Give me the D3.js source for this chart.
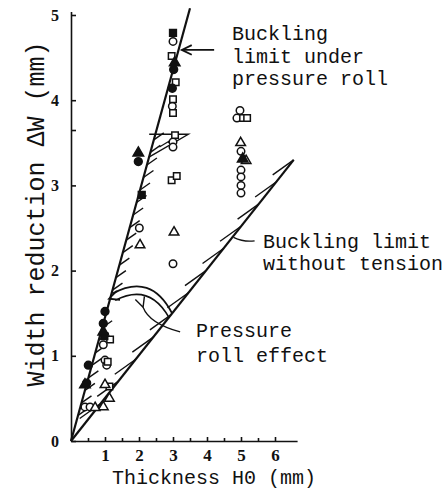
<!DOCTYPE html>
<html>
<head>
<meta charset="utf-8">
<script src="https://cdn.jsdelivr.net/npm/d3@7"></script>
<style>
  body { margin: 0; background: #fff; }
  svg { display: block; }
  .mono { font-family: "Liberation Mono", "DejaVu Sans Mono", monospace; fill: #111; }
  .axis text { font-family: "Liberation Serif", "DejaVu Serif", serif; font-weight: bold; fill: #111; }
  .axis path, .axis line { stroke: #111; stroke-width: 1.6; }
</style>
</head>
<body>
<svg id="chart" width="447" height="492"></svg>
<script>
// values, [H0 (mm), dW (mm)]
const openCircle = [
  [3.0, 4.69], [2.98, 3.93], [3.0, 3.51], [3.0, 3.45], [3.0, 2.08],
  [4.97, 3.88], [4.88, 3.79], [5.0, 3.40], [5.0, 3.18], [5.0, 3.10], [5.0, 3.00], [5.0, 2.91],
  [2.01, 2.50],
  [0.95, 1.13], [1.0, 0.95], [1.05, 0.89],
  [0.41, 0.40], [0.56, 0.40]
];
const filledCircle = [
  [3.02, 4.36], [2.98, 4.14],
  [1.98, 3.28],
  [1.0, 1.52], [0.95, 1.38],
  [0.51, 0.89], [0.46, 0.68]
];
const openTriangle = [
  [3.03, 2.45],
  [4.99, 3.50], [5.15, 3.29],
  [2.03, 2.30],
  [1.0, 0.66], [1.13, 0.50], [0.95, 0.40], [0.71, 0.39]
];
const filledTriangle = [
  [3.05, 4.44], [5.05, 3.31], [1.98, 3.38], [0.95, 1.28], [0.41, 0.66]
];
const openSquare = [
  [2.96, 4.52], [3.08, 4.21], [3.0, 4.01], [3.0, 3.85], [3.06, 3.59], [2.96, 3.06], [3.11, 3.11],
  [5.06, 3.79], [5.18, 3.79],
  [1.15, 1.19], [1.08, 0.93], [1.13, 0.64]
];
const filledSquare = [
  [3.0, 4.79], [2.08, 2.89], [0.98, 1.23]
];

// limit lines
const limitUnderRoll = [[0, 0], [3.5, 5.08]];
const limitNoTension = [[0, 0], [6.55, 3.3]];
const rollWedge = [[2.3, 3.6], [3.45, 3.6], [2.28, 3.33]];

const xTicks = [1, 2, 3, 4, 5, 6];
const xMinor = [0.5, 1.5, 2.5, 3.5, 4.5, 5.5];
const yTicks = [0, 1, 2, 3, 4, 5];
const yMinor = [3.65];

const svg = d3.select("#chart");

const x = d3.scaleLinear().domain([0, 6]).range([71, 275]);
const y = d3.scaleLinear().domain([0, 5]).range([441, 15]);

// === axes ===
const xAxisScale = x.copy().domain([0, 6.65]).range([x(0), x(6.65)]);
const yAxisScale = y.copy().domain([0, 5.04]).range([y(0), y(5.04)]);

svg.append("g")
  .attr("class", "axis")
  .attr("transform", `translate(0,${y(0)})`)
  .call(d3.axisBottom(xAxisScale).tickValues(xTicks).tickFormat(d3.format("d"))
    .tickSizeInner(-4).tickSizeOuter(0).tickPadding(8))
  .call(g => g.selectAll("text").style("font-size", "17px"));

svg.append("g")
  .attr("class", "axis")
  .attr("transform", `translate(0,${y(0)})`)
  .call(d3.axisBottom(xAxisScale).tickValues(xMinor).tickSizeInner(-3).tickSizeOuter(0).tickFormat(() => ""))
  .call(g => g.select(".domain").remove());

svg.append("g")
  .attr("class", "axis")
  .attr("transform", `translate(${x(0)},0)`)
  .call(d3.axisLeft(yAxisScale).tickValues(yTicks).tickFormat(d3.format("d"))
    .tickSizeInner(-5).tickSizeOuter(0).tickPadding(12))
  .call(g => g.selectAll("text").style("font-size", "16px"));

svg.append("g")
  .attr("class", "axis")
  .attr("transform", `translate(${x(0)},0)`)
  .call(d3.axisLeft(yAxisScale).tickValues(yMinor).tickSizeInner(-5).tickSizeOuter(0).tickFormat(() => ""))
  .call(g => g.select(".domain").remove());

// axis titles
svg.append("text")
  .attr("class", "mono")
  .attr("x", 112)
  .attr("y", 484)
  .style("font-size", "20px")
  .text("Thickness H0 (mm)");

svg.append("text")
  .attr("class", "mono")
  .attr("transform", "translate(44,214) rotate(-90)")
  .attr("text-anchor", "middle")
  .style("font-size", "25px")
  .text("Width reduction \u0394W (mm)");

// === limit lines + hatching ===
const line = d3.line().x(d => x(d[0])).y(d => y(d[1]));
const ink = g => g.attr("fill", "none").attr("stroke", "#111");

svg.append("path").datum(limitUnderRoll).attr("d", line).call(ink).attr("stroke-width", 2.2);
svg.append("path").datum(limitNoTension).attr("d", line).call(ink).attr("stroke-width", 2.2);

// short ticks on the right of the steep line
const slopeRoll = limitUnderRoll[1][1] / limitUnderRoll[1][0];
const steepHatch = d3.range(0.3, 3.56, 0.147).filter(v => v > 1.7 || v < 1.45);
svg.append("g").selectAll("line")
  .data(steepHatch)
  .join("line")
  .attr("x1", v => x(v / slopeRoll))
  .attr("y1", v => y(v))
  .attr("x2", v => x(v / slopeRoll) + 10)
  .attr("y2", v => y(v) - 7)
  .call(ink).attr("stroke-width", 1.4);

// long strokes above the lower line
const slopeFree = limitNoTension[1][1] / limitNoTension[1][0];
const freeHatch = d3.range(3.3, 0.3, -0.26);
svg.append("g").selectAll("line")
  .data(freeHatch)
  .join("line")
  .attr("x1", v => x(v / slopeFree))
  .attr("y1", v => y(v))
  .attr("x2", v => x(v / slopeFree) - 21)
  .attr("y2", v => y(v) + 15)
  .call(ink).attr("stroke-width", 1.4);

// small wedge at 3 mm
svg.append("path").datum(rollWedge).attr("d", line).call(ink).attr("stroke-width", 1.4);
svg.append("g").selectAll("line")
  .data([[2.6, 3.45], [2.85, 3.5]])
  .join("line")
  .attr("x1", d => x(d[0]))
  .attr("y1", d => y(d[1]))
  .attr("x2", d => x(d[0]) + 10)
  .attr("y2", d => y(d[1]) - 6)
  .call(ink).attr("stroke-width", 1.2);

// === markers ===
const sym = (type, size) => d3.symbol().type(type).size(size)();
const series = [
  { data: openCircle, type: d3.symbolCircle, size: 44, fill: "#fff" },
  { data: openSquare, type: d3.symbolSquare, size: 42, fill: "#fff" },
  { data: openTriangle, type: d3.symbolTriangle, size: 40, fill: "#fff" },
  { data: filledCircle, type: d3.symbolCircle, size: 48, fill: "#111" },
  { data: filledSquare, type: d3.symbolSquare, size: 46, fill: "#111" },
  { data: filledTriangle, type: d3.symbolTriangle, size: 48, fill: "#111" }
];
series.forEach(s => {
  svg.append("g").selectAll("path")
    .data(s.data)
    .join("path")
    .attr("d", sym(s.type, s.size))
    .attr("transform", d => `translate(${x(d[0])},${y(d[1])})`)
    .attr("fill", s.fill)
    .attr("stroke", "#111")
    .attr("stroke-width", 1.5);
});

// === annotations ===
const arrowHead = (px, py, ang) => {
  const a1 = ang + 0.45, a2 = ang - 0.45, L = 11;
  return `M${px + L * Math.cos(a1)},${py + L * Math.sin(a1)}L${px},${py}L${px + L * Math.cos(a2)},${py + L * Math.sin(a2)}`;
};

// arrow to the steep line
svg.append("line")
  .attr("x1", x(4.21)).attr("y1", y(4.59))
  .attr("x2", x(3.26)).attr("y2", y(4.59))
  .call(ink).attr("stroke-width", 1.8);
svg.append("path").attr("d", arrowHead(x(3.26), y(4.59), 0)).call(ink).attr("stroke-width", 1.8);

// leader to lower line
svg.append("path")
  .attr("d", `M${x(4.78)},${y(2.39)}Q${x(5.1)},${y(2.33)} ${x(5.4)},${y(2.35)}`)
  .call(ink).attr("stroke-width", 1.3);

// pressure roll effect band
svg.append("path")
  .attr("d", `M${x(1.22)},${y(1.73)}Q${x(2.35)},${y(1.98)} ${x(2.97)},${y(1.5)}`)
  .call(ink).attr("stroke-width", 1.8);
svg.append("path")
  .attr("d", `M${x(1.3)},${y(1.65)}Q${x(2.3)},${y(1.86)} ${x(2.88)},${y(1.45)}`)
  .call(ink).attr("stroke-width", 1.5);
svg.append("path").attr("d", arrowHead(x(1.12), y(1.67), -0.35)).call(ink).attr("stroke-width", 1.8);

// leader from label to band
svg.append("path")
  .attr("d", `M${x(3.21)},${y(1.28)}Q${x(2.3)},${y(1.38)} ${x(2.12)},${y(1.57)}`)
  .call(ink).attr("stroke-width", 1.3);
svg.append("path").attr("d", arrowHead(x(2.12), y(1.57), -1.9)).call(ink).attr("stroke-width", 1.4);

// labels
const labels = [
  { lines: ["Buckling", "limit under", "pressure roll"], x: 232, y: 40, dy: 22.5 },
  { lines: ["Buckling limit", "without tension"], x: 263, y: 248, dy: 22 },
  { lines: ["Pressure", "roll effect"], x: 196, y: 337, dy: 25 }
];
labels.forEach(l => {
  const t = svg.append("text")
    .attr("class", "mono")
    .attr("x", l.x)
    .attr("y", l.y)
    .style("font-size", "20px");
  t.selectAll("tspan")
    .data(l.lines)
    .join("tspan")
    .attr("x", l.x)
    .attr("dy", (d, i) => i === 0 ? 0 : l.dy)
    .text(d => d);
});
</script>
</body>
</html>
